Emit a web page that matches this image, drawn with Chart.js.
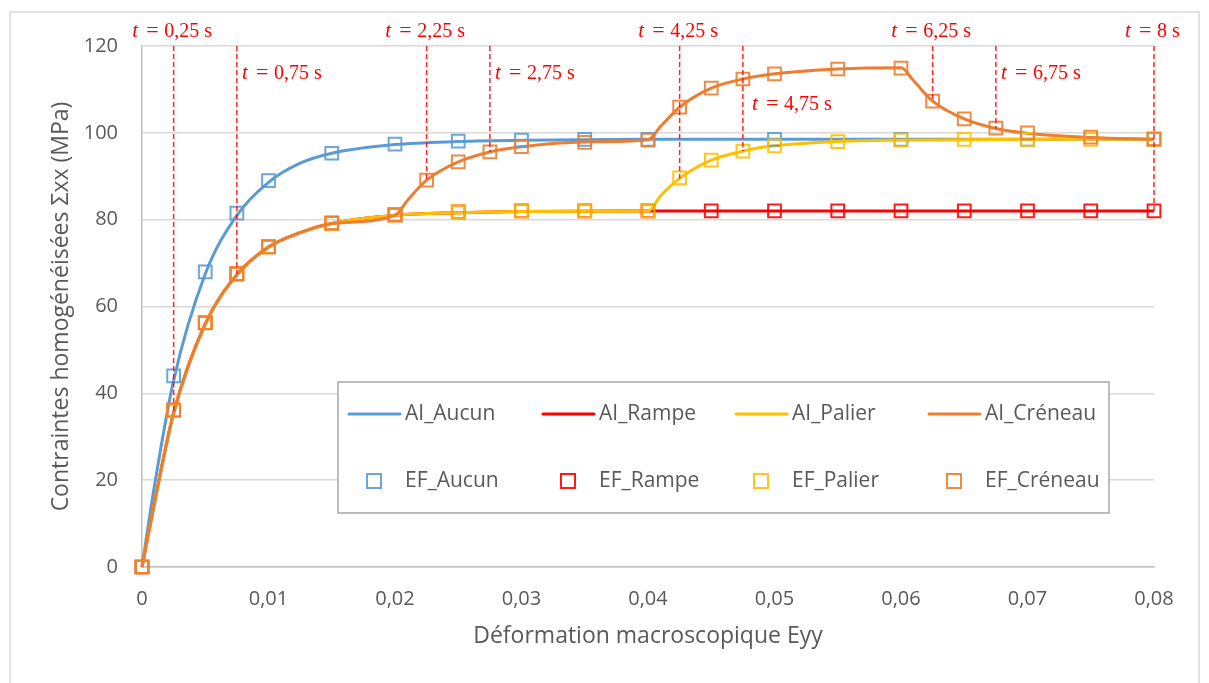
<!DOCTYPE html>
<html lang="fr">
<head>
<meta charset="utf-8">
<title>Contraintes homogénéisées</title>
<script src="https://cdn.jsdelivr.net/npm/chart.js@4.4.1/dist/chart.umd.min.js"></script>
<style>
  html, body { margin: 0; padding: 0; background: #fff; }
</style>
</head>
<body>
<canvas id="chart" width="1209" height="683"></canvas>
<script>
// Courbes analytiques (AI)
const aiX_Aucun = [0, 0.001, 0.0025, 0.005, 0.0075, 0.01, 0.0125, 0.015, 0.02, 0.025, 0.03, 0.04, 0.05, 0.06, 0.07, 0.08];
const aiY_Aucun = [0, 19, 43, 67.5, 81, 88.6, 93, 95.3, 97.3, 98, 98.3, 98.5, 98.5, 98.5, 98.5, 98.5];

const aiX_Rampe = [0, 0.001, 0.0025, 0.005, 0.0075, 0.01, 0.0125, 0.015, 0.02, 0.025, 0.03, 0.04, 0.05, 0.06, 0.07, 0.08];
const aiY_Rampe = [0, 15, 35.5, 56, 67.3, 73.7, 77, 79.1, 81, 81.6, 81.9, 82, 82, 82, 82, 82];

const aiX_Palier = [0, 0.001, 0.0025, 0.005, 0.0075, 0.01, 0.0125, 0.015, 0.02, 0.025, 0.03, 0.04, 0.041, 0.0425, 0.045, 0.0475, 0.05, 0.055, 0.06, 0.07, 0.08];
const aiY_Palier = [0, 15, 35.5, 56, 67.3, 73.7, 77, 79.1, 81, 81.6, 81.9, 82, 85.5, 89.5, 93.7, 95.8, 97, 98, 98.3, 98.5, 98.5];

const aiX_Creneau = [0, 0.001, 0.0025, 0.005, 0.0075, 0.01, 0.0125, 0.015, 0.02, 0.021, 0.0225, 0.025, 0.0275, 0.03, 0.035, 0.04, 0.041, 0.0425, 0.045, 0.0475, 0.05, 0.055, 0.06, 0.061, 0.0625, 0.065, 0.0675, 0.07, 0.075, 0.08];
const aiY_Creneau = [0, 15, 35.5, 56, 67.3, 73.7, 77, 79.1, 81, 84.5, 89.1, 93.3, 95.6, 96.8, 97.9, 98.4, 101.5, 105.9, 110.3, 112.4, 113.6, 114.7, 115, 112, 107.3, 103.2, 101, 99.9, 98.9, 98.5];

// Points éléments finis (EF)
const efX_Aucun = [0, 0.0025, 0.005, 0.0075, 0.01, 0.015, 0.02, 0.025, 0.03, 0.035, 0.04, 0.05, 0.06, 0.07, 0.08];
const efY_Aucun = [0, 44, 68, 81.5, 89, 95.3, 97.4, 98.1, 98.3, 98.5, 98.5, 98.5, 98.5, 98.5, 98.5];

const efX_Rampe = [0, 0.0025, 0.005, 0.0075, 0.01, 0.015, 0.02, 0.025, 0.03, 0.035, 0.04, 0.045, 0.05, 0.055, 0.06, 0.065, 0.07, 0.075, 0.08];
const efY_Rampe = [0, 36, 56.3, 67.5, 73.8, 79.2, 81.1, 81.8, 82, 82, 82, 82, 82, 82, 82, 82, 82, 82, 82];

const efX_Palier = [0, 0.0025, 0.005, 0.0075, 0.01, 0.015, 0.02, 0.025, 0.03, 0.035, 0.04, 0.0425, 0.045, 0.0475, 0.05, 0.055, 0.06, 0.065, 0.07, 0.075, 0.08];
const efY_Palier = [0, 36, 56.3, 67.5, 73.8, 79.2, 81.1, 81.8, 82, 82, 82, 89.6, 93.7, 95.8, 97, 98, 98.3, 98.5, 98.5, 98.5, 98.5];

const efX_Creneau = [0, 0.0025, 0.005, 0.0075, 0.01, 0.015, 0.02, 0.0225, 0.025, 0.0275, 0.03, 0.035, 0.04, 0.0425, 0.045, 0.0475, 0.05, 0.055, 0.06, 0.0625, 0.065, 0.0675, 0.07, 0.075, 0.08];
const efY_Creneau = [0, 36.2, 56.2, 67.5, 73.7, 79.2, 81.1, 89.1, 93.3, 95.6, 96.8, 97.8, 98.3, 105.9, 110.3, 112.4, 113.6, 114.7, 114.9, 107.3, 103.2, 101.1, 100, 99, 98.6];

// Repères temporels (t en s, déformation associée, fin du trait pointillé)
const tLabels = ['0,25', '0,75', '2,25', '2,75', '4,25', '4,75', '6,25', '6,75', '8'];
const tStrain = [0.0025, 0.0075, 0.0225, 0.0275, 0.0425, 0.0475, 0.0625, 0.0675, 0.08];
const tLineEnd = [36, 67.5, 89, 95.6, 89.5, 95.8, 107.3, 101, 82];

const yTop = 120;

const BLUE = '#5B9BD5', RED = '#FF0000', YELLOW = '#FFC000', ORANGE = '#ED7D31';
const TXT = '#595959';
const FONT = '"Open Sans", Lato, sans-serif';
const MATH = '"Liberation Serif", serif';

function pts(xs, ys) {
    return xs.map((x, i) => ({ x: x, y: ys[i] }));
}

function aiSet(label, xs, ys, color, order) {
    return {
        label: label, data: pts(xs, ys), borderColor: color, backgroundColor: color,
        borderWidth: 3, pointRadius: 0, cubicInterpolationMode: 'monotone',
        order: order, clip: false
    };
}

function efSet(label, xs, ys, color, order) {
    return {
        label: label, data: pts(xs, ys), showLine: false, pointStyle: 'rect',
        pointRadius: 9, pointBorderWidth: 2, borderColor: color,
        pointBorderColor: color, pointBackgroundColor: 'rgba(0,0,0,0)',
        order: order, clip: false
    };
}

const datasets = [
    aiSet('AI_Aucun', aiX_Aucun, aiY_Aucun, BLUE, 9),
    aiSet('AI_Rampe', aiX_Rampe, aiY_Rampe, RED, 8),
    aiSet('AI_Palier', aiX_Palier, aiY_Palier, YELLOW, 7),
    aiSet('AI_Créneau', aiX_Creneau, aiY_Creneau, ORANGE, 6),
    efSet('EF_Aucun', efX_Aucun, efY_Aucun, 'rgba(91,155,213,0.9)', 5),
    efSet('EF_Rampe', efX_Rampe, efY_Rampe, 'rgba(255,0,0,0.9)', 4),
    efSet('EF_Palier', efX_Palier, efY_Palier, 'rgba(255,192,0,0.9)', 3),
    efSet('EF_Créneau', efX_Creneau, efY_Creneau, 'rgba(237,125,49,0.9)', 2)
];

// traits pointillés verticaux
tStrain.forEach((x, i) => {
    datasets.push({
        label: 't' + i, data: [{ x: x, y: yTop }, { x: x, y: tLineEnd[i] }],
        borderColor: 'rgba(255,0,0,0.85)', borderWidth: 1.5, borderDash: [5, 3],
        pointRadius: 0, order: 1, clip: false
    });
});

// cadre, légende et étiquettes t
const decor = {
    id: 'decor',
    beforeDraw(chart) {
        const ctx = chart.ctx;
        ctx.save();
        ctx.fillStyle = '#fff';
        ctx.fillRect(0, 0, chart.width, chart.height);
        ctx.strokeStyle = '#d9d9d9';
        ctx.lineWidth = 1.5;
        ctx.strokeRect(10, 12, 1189, 700);
        ctx.restore();
    },
    afterDatasetsDraw(chart) {
        const ctx = chart.ctx;
        const xs = chart.scales.x, area = chart.chartArea;
        ctx.save();

        // étiquettes "t = ... s"
        ctx.fillStyle = RED;
        ctx.textBaseline = 'alphabetic';
        ctx.textAlign = 'left';
        tLabels.forEach((lab, i) => {
            const px = xs.getPixelForValue(tStrain[i]);
            const rest = lab + ' s';
            ctx.font = '20px ' + MATH;
            const w = 33 + ctx.measureText(rest).width;
            let x0, y;
            if (i % 2 === 0) {
                x0 = px - 2 - w / 2;
                y = area.top - 9;
            } else if (i === 5) {
                x0 = px + 8;
                y = area.top + 64;
            } else {
                x0 = px + 4;
                y = area.top + 33;
            }
            ctx.font = 'italic 21px ' + MATH;
            ctx.fillText('t', x0 + 1, y);
            ctx.font = '22px ' + MATH;
            ctx.fillText('=', x0 + 15, y);
            ctx.font = '20px ' + MATH;
            ctx.fillText(rest, x0 + 33, y);
        });

        // légende
        const box = { l: 338, t: 382, r: 1109, b: 513 };
        ctx.fillStyle = '#fff';
        ctx.fillRect(box.l, box.t, box.r - box.l, box.b - box.t);
        ctx.strokeStyle = '#a6a6a6';
        ctx.lineWidth = 1.5;
        ctx.strokeRect(box.l, box.t, box.r - box.l, box.b - box.t);

        const colX = [405, 599, 792, 985];
        const rowY = [414, 481];
        ctx.font = '21px ' + FONT;
        ctx.textBaseline = 'middle';
        for (let i = 0; i < 8; i++) {
            const ds = chart.data.datasets[i];
            const tx = colX[i % 4], ty = rowY[Math.floor(i / 4)];
            if (i < 4) {
                ctx.strokeStyle = ds.borderColor;
                ctx.lineWidth = 3;
                ctx.lineCap = 'round';
                ctx.beginPath();
                ctx.moveTo(tx - 56, ty);
                ctx.lineTo(tx - 5, ty);
                ctx.stroke();
            } else {
                ctx.strokeStyle = ds.pointBorderColor;
                ctx.lineWidth = 2;
                ctx.strokeRect(tx - 38, ty - 7, 14, 14);
            }
            ctx.fillStyle = TXT;
            ctx.fillText(ds.label, tx, ty);
        }
        ctx.restore();
    }
};

new Chart(document.getElementById('chart'), {
    type: 'line',
    data: { datasets: datasets },
    options: {
        responsive: false,
        animation: false,
        events: [],
        layout: { padding: { left: 0, right: 55, top: 46, bottom: 0 } },
        plugins: { legend: { display: false }, tooltip: { enabled: false } },
        scales: {
            x: {
                type: 'linear', min: 0, max: 0.08,
                afterFit: s => { s.height = 116; },
                grid: { display: false, drawTicks: false },
                border: { display: true, color: '#bfbfbf', width: 1.5 },
                ticks: {
                    stepSize: 0.01, padding: 20, color: TXT,
                    font: { family: FONT, size: 20 },
                    callback: v => v === 0 ? '0' : v.toFixed(2).replace('.', ',')
                },
                title: {
                    display: true, text: 'Déformation macroscopique Eyy', color: TXT,
                    font: { family: FONT, size: 23 }, padding: { top: 0, bottom: 33 }
                }
            },
            y: {
                min: 0, max: 120,
                afterFit: s => { s.width = 142; },
                grid: { color: '#d9d9d9', lineWidth: 1.5, drawTicks: false },
                border: { display: true, color: '#bfbfbf', width: 1.5 },
                ticks: {
                    stepSize: 20, padding: 24, color: TXT,
                    font: { family: FONT, size: 20 }
                },
                title: {
                    display: true, text: 'Contraintes homogénéisées Σxx (MPa)', color: TXT,
                    font: { family: FONT, size: 23 }, padding: { top: 48, bottom: 0 }
                }
            }
        }
    },
    plugins: [decor]
});
</script>
</body>
</html>
